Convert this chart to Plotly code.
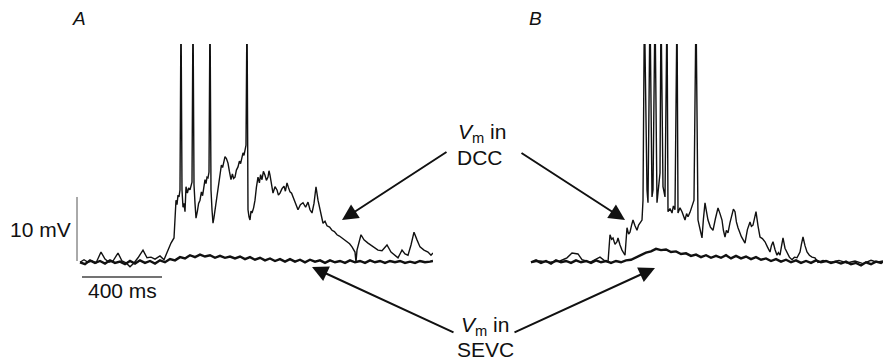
import plotly.graph_objects as go

# ---------------- data (time in ms, membrane potential in mV rel. to rest) ----------------
# Panel A, V_m recorded in DCC mode
dcc_a_t = [0, 20, 40, 60, 80, 105, 125, 145, 165, 190, 210, 230, 250, 270, 290, 315, 335, 355,
           375, 400, 420, 435, 455, 470,
           480, 485, 490, 495, 500, 510, 515, 520, 525, 530, 537, 543, 550, 555, 560, 570, 575,
           580, 587, 593, 600, 607, 613, 619, 625, 630, 635, 640, 645, 655, 660, 665, 670, 677,
           685, 692, 700, 707, 713, 719, 725, 732, 740, 747, 755, 762, 768, 775, 782, 790, 797,
           803, 809, 815, 820, 825, 830,
           840, 845, 850, 855, 860, 868, 875, 882, 890, 897, 903, 910, 917, 925, 932, 940, 945,
           950, 957, 965, 975, 985, 992, 1000, 1010, 1020, 1027, 1035, 1042, 1050, 1058, 1065,
           1078, 1090, 1102, 1115, 1128, 1140, 1150, 1160, 1170, 1180, 1190, 1200, 1208, 1215,
           1225, 1235, 1248, 1260, 1272, 1285, 1297, 1310, 1322, 1335, 1348, 1360,
           1375, 1380, 1385, 1405, 1420, 1440, 1465, 1490, 1510, 1535, 1555, 1575, 1590, 1600,
           1610, 1625, 1640, 1655, 1670, 1685, 1700, 1720, 1740, 1755, 1765]
dcc_a_v = [-0.2, 0.2, -0.2, 0.0, -0.3, 1.4, 0.3, -0.2, 0.0, 1.25, 0.0, -0.3, -0.9, -0.3, 0.5, 1.7,
           0.5, 0.6, 0.3, 0.8, 0.2, 1.4, 2.8, 3.6,
           9.5, 8.8, 10.3, 10.0, 11.1, 11.1, 8.4, 9.0, 7.7, 11.6, 10.6, 11.4, 11.1, 11.9, 12.3,
           11.9, 9.0, 6.7, 7.8, 9.0, 9.5, 10.8, 10.2, 12.0, 12.7, 12.1, 13.1, 13.0, 13.9, 11.1,
           8.0, 5.9, 6.8, 8.5, 10.3, 12.0, 14.2, 15.0, 14.6, 15.7, 16.3, 16.0, 15.3, 14.0, 12.7,
           13.6, 12.9, 13.1, 14.2, 14.7, 15.6, 15.2, 16.4, 16.9, 16.5, 17.7, 18.1,
           8.0, 6.9, 6.4, 7.8, 7.5, 8.3, 9.5, 11.5, 13.1, 12.2, 13.5, 12.7, 14.0, 13.4, 12.6,
           13.1, 14.1, 13.4, 11.8, 10.6, 11.6, 11.1, 10.3, 10.6, 11.3, 11.7, 10.9, 12.2, 11.5,
           10.8, 10.6, 10.0, 9.2, 8.0, 8.8, 9.1, 8.4, 9.2, 8.0, 7.5, 9.0, 11.6, 9.5, 8.0, 7.2,
           5.9, 6.2, 5.5, 5.3, 4.8, 4.6, 4.1, 3.9, 3.6, 3.4, 3.0, 2.7, 2.2,
           1.4, -0.2, 1.7, 4.1, 3.3, 2.8, 2.2, 1.7, 1.6, 2.5, 1.4, 0.9, 0.5,
           1.1, 1.7, 1.1, 0.9, 2.5, 4.5, 3.3, 2.2, 1.7, 1.4, 0.9, 1.25]
spikes_a_t = [505, 565, 650, 835]

# Panel A, V_m recorded in SEVC mode
sevc_a_t = [0, 25, 50, 75, 100, 125, 150, 175, 200, 225, 250, 275, 300, 325, 350, 375, 400, 425,
            450, 475, 500, 525, 550, 575, 600, 625, 650, 675, 700, 725, 750, 775, 800, 825, 850,
            875, 900, 925, 950, 975, 1000, 1025, 1050, 1075, 1100, 1125, 1150, 1175, 1200, 1225,
            1250, 1275, 1300, 1325, 1350, 1375, 1400, 1425, 1450, 1475, 1500, 1525, 1550, 1575,
            1600, 1625, 1650, 1675, 1700, 1725, 1750, 1765]
sevc_a_v = [-0.2, -0.5, 0.1, -0.3, 0.0, -0.4, 0.1, -0.3, -0.1, -0.5, 0.0, -0.4, 0.1, -0.3, 0.0,
            -0.4, 0.1, -0.2, 0.3, 0.1, 0.6, 0.4, 0.9, 0.6, 1.0, 0.7, 0.9, 0.5, 0.8, 0.5, 0.7, 0.4,
            0.7, 0.3, 0.6, 0.2, 0.5, 0.1, 0.4, 0.0, 0.3, -0.1, 0.3, -0.1, 0.2, -0.2, 0.2, -0.1, 0.1,
            -0.3, 0.1, -0.2, 0.0, -0.3, 0.1, -0.2, 0.0, -0.3, 0.1, -0.2, 0.0, -0.3, 0.0, -0.2, 0.0,
            -0.3, -0.1, -0.3, 0.0, -0.2, -0.1, 0.0]

# Panel B, V_m recorded in DCC mode
dcc_b_t = [0, 45, 95, 145, 180, 205, 235, 255, 295, 325, 345, 370, 385, 395, 403, 410, 420, 430,
           435, 445, 455, 470, 480, 488, 495, 503, 510, 520, 530, 538, 545, 555, 560, 580, 585,
           605, 610, 630, 635, 645, 660, 670, 685, 695, 705, 712, 720, 735, 745, 755, 762, 770,
           778, 785, 795, 805, 815, 835, 845, 855, 862, 870, 877, 885, 897, 910, 922, 935, 945,
           955, 962, 970, 977, 985, 995, 1005, 1012, 1020, 1027, 1035, 1052, 1070, 1082, 1095,
           1102, 1110, 1118, 1125, 1135, 1145, 1157, 1170, 1182, 1195, 1202, 1210, 1220, 1230,
           1237, 1245, 1252, 1260, 1270, 1280, 1292, 1305, 1317, 1330, 1345, 1352, 1360, 1370,
           1380, 1392, 1405, 1420, 1435, 1460, 1500, 1540, 1580, 1620, 1660, 1700, 1730, 1760]
dcc_b_v = [-0.2, 0.0, -0.2, 0.0, 0.5, 1.25, 1.1, 0.2, -0.2, 0.3, 0.6, 0.0, -0.2, 4.1, 3.4, 3.6,
           2.6, 3.0, 3.6, 2.5, 1.7, 0.9, 5.2, 4.2, 4.5, 5.6, 6.4, 5.5, 4.8, 5.6, 5.9, 6.4, 9.5,
           11.1, 9.1, 10.0, 11.1, 9.1, 10.6, 13.75, 11.6, 10.0, 7.7, 8.2, 7.5, 8.6, 8.0, 7.5, 8.3,
           7.7, 6.9, 6.4, 7.4, 6.9, 7.6, 8.4, 9.5, 6.4, 5.0, 3.6, 6.5, 9.1, 7.8, 6.4, 5.3, 4.8,
           6.6, 8.3, 7.4, 6.4, 4.8, 3.75, 4.8, 4.4, 6.0, 7.5, 8.1, 7.7, 6.1, 5.2, 3.8, 2.8, 4.9,
           6.1, 5.4, 5.6, 6.9, 7.7, 5.5, 3.75, 3.5, 3.0, 2.2, 1.4, 2.4, 3.0, 1.8, 0.9, 1.3, 0.9,
           2.2, 3.6, 2.0, 1.25, 0.6, 0.2, 0.6, 0.5, 1.4, 2.6, 3.75, 2.4, 1.4, 0.9, 0.6, 0.5,
           -0.2, 0.1, -0.2, 0.1, -0.3, 0.0, -0.4, 0.1, -0.2, 0.0]
spikes_b_t = [567, 595, 620, 650, 680, 730, 825]

# Panel B, V_m recorded in SEVC mode
sevc_b_t = [0, 25, 50, 75, 100, 125, 150, 175, 200, 225, 250, 275, 300, 325, 350, 375, 400, 425,
            450, 475, 500, 525, 550, 575, 600, 625, 650, 675, 700, 725, 750, 775, 800, 825, 850,
            875, 900, 925, 950, 975, 1000, 1025, 1050, 1075, 1100, 1125, 1150, 1175, 1200, 1225,
            1250, 1275, 1300, 1325, 1350, 1375, 1400, 1425, 1450, 1475, 1500, 1525, 1550, 1575,
            1600, 1625, 1650, 1675, 1700, 1725, 1750, 1760]
sevc_b_v = [-0.2, 0.1, -0.3, 0.0, -0.4, 0.1, -0.2, 0.0, -0.3, 0.1, -0.2, 0.0, -0.3, 0.1, -0.2,
            0.0, -0.3, 0.0, -0.2, 0.1, 0.2, 0.6, 0.9, 1.3, 1.5, 1.9, 1.7, 1.8, 1.4, 1.5, 1.1, 1.2,
            0.8, 1.0, 0.6, 0.9, 0.5, 0.8, 0.5, 0.9, 0.4, 0.8, 0.4, 0.7, 0.3, 0.6, 0.2, 0.4, 0.0,
            0.3, -0.1, 0.2, -0.2, 0.1, -0.3, 0.0, -0.3, 0.1, -0.2, 0.0, -0.3, -0.1, -0.4, -0.1,
            -0.5, -0.3, -0.7, -0.2, -0.5, -0.1, -0.3, -0.1]

spike_peak_mv = 40          # spikes run off the top of the panel
scale_time_ms = 400
scale_volt_mv = 10
panel_labels = ["A", "B"]
scale_labels = ["10 mV", "400 ms"]
trace_labels = ["DCC", "SEVC"]

# ---------------- helpers ----------------
def with_spikes(t, v, spikes):
    pts = list(zip(t, v)) + [(s, spike_peak_mv) for s in spikes]
    pts.sort(key=lambda p: p[0])
    return [p[0] for p in pts], [p[1] for p in pts]

W, H = 883, 359
BLACK = "#111111"

fig = go.Figure()

ta, va = with_spikes(dcc_a_t, dcc_a_v, spikes_a_t)
tb, vb = with_spikes(dcc_b_t, dcc_b_v, spikes_b_t)

fig.add_trace(go.Scatter(x=sevc_a_t, y=sevc_a_v, mode="lines", xaxis="x", yaxis="y",
                         line=dict(color=BLACK, width=2.4), hoverinfo="skip"))
fig.add_trace(go.Scatter(x=ta, y=va, mode="lines", xaxis="x", yaxis="y",
                         line=dict(color=BLACK, width=1.4), hoverinfo="skip"))
fig.add_trace(go.Scatter(x=sevc_b_t, y=sevc_b_v, mode="lines", xaxis="x2", yaxis="y",
                         line=dict(color=BLACK, width=2.4), hoverinfo="skip"))
fig.add_trace(go.Scatter(x=tb, y=vb, mode="lines", xaxis="x2", yaxis="y",
                         line=dict(color=BLACK, width=1.4), hoverinfo="skip"))

# scale bars (panel A)
fig.add_trace(go.Scatter(x=[-15, -15], y=[0, scale_volt_mv], mode="lines", xaxis="x", yaxis="y",
                         line=dict(color="#555555", width=1), hoverinfo="skip"))
fig.add_trace(go.Scatter(x=[10, 10 + scale_time_ms], y=[-2.5, -2.5], mode="lines",
                         xaxis="x", yaxis="y",
                         line=dict(color="#444444", width=1.3), hoverinfo="skip"))

ax_common = dict(visible=False, showgrid=False, zeroline=False, fixedrange=True)
fig.update_layout(
    width=W, height=H,
    margin=dict(l=0, r=0, t=0, b=0),
    paper_bgcolor="white", plot_bgcolor="white",
    showlegend=False,
    xaxis=dict(domain=[76 / W, 433 / W], range=[-20, 1765], **ax_common),
    xaxis2=dict(domain=[527 / W, 1.0], range=[-20, 1760], **ax_common),
    yaxis=dict(domain=[1 - 280.2 / H, 1 - 44 / H], range=[-3, 33.9], **ax_common),
    font=dict(family="Liberation Sans, Arial, sans-serif", color=BLACK),
)

def px(x, y):
    return x / W, 1 - y / H

ann = []
def text(x, y, s, size=21, italic=False):
    xx, yy = px(x, y)
    ann.append(dict(x=xx, y=yy, xref="paper", yref="paper", text=(f"<i>{s}</i>" if italic else s),
                    showarrow=False, xanchor="center", yanchor="middle",
                    font=dict(size=size, color=BLACK)))

text(79, 19, panel_labels[0], size=19, italic=True)
text(535, 19, panel_labels[1], size=19, italic=True)
text(40, 229, scale_labels[0])
text(122, 290, scale_labels[1])
vm = "<i>V</i><sub>m</sub> in"
text(482, 133, vm)
text(480, 157, trace_labels[0])
text(485, 326, vm)
text(485, 349, trace_labels[1])

def arrow(tail, tip):
    xx, yy = px(*tip)
    ann.append(dict(x=xx, y=yy, xref="paper", yref="paper", text="", showarrow=True,
                    ax=tail[0] - tip[0], ay=tail[1] - tip[1], axref="pixel", ayref="pixel",
                    arrowhead=2, arrowsize=1.6, arrowwidth=2, arrowcolor=BLACK, standoff=0,
                    font=dict(size=12)))

arrow((448, 151), (342, 220))
arrow((520, 152), (625, 220))
arrow((455, 333), (312, 267))
arrow((513, 333), (655, 268))

fig.update_layout(annotations=ann)
fig.write_html("out.html", config={"displayModeBar": False},
               post_script="document.body.style.margin='0';document.body.style.overflow='hidden';")
